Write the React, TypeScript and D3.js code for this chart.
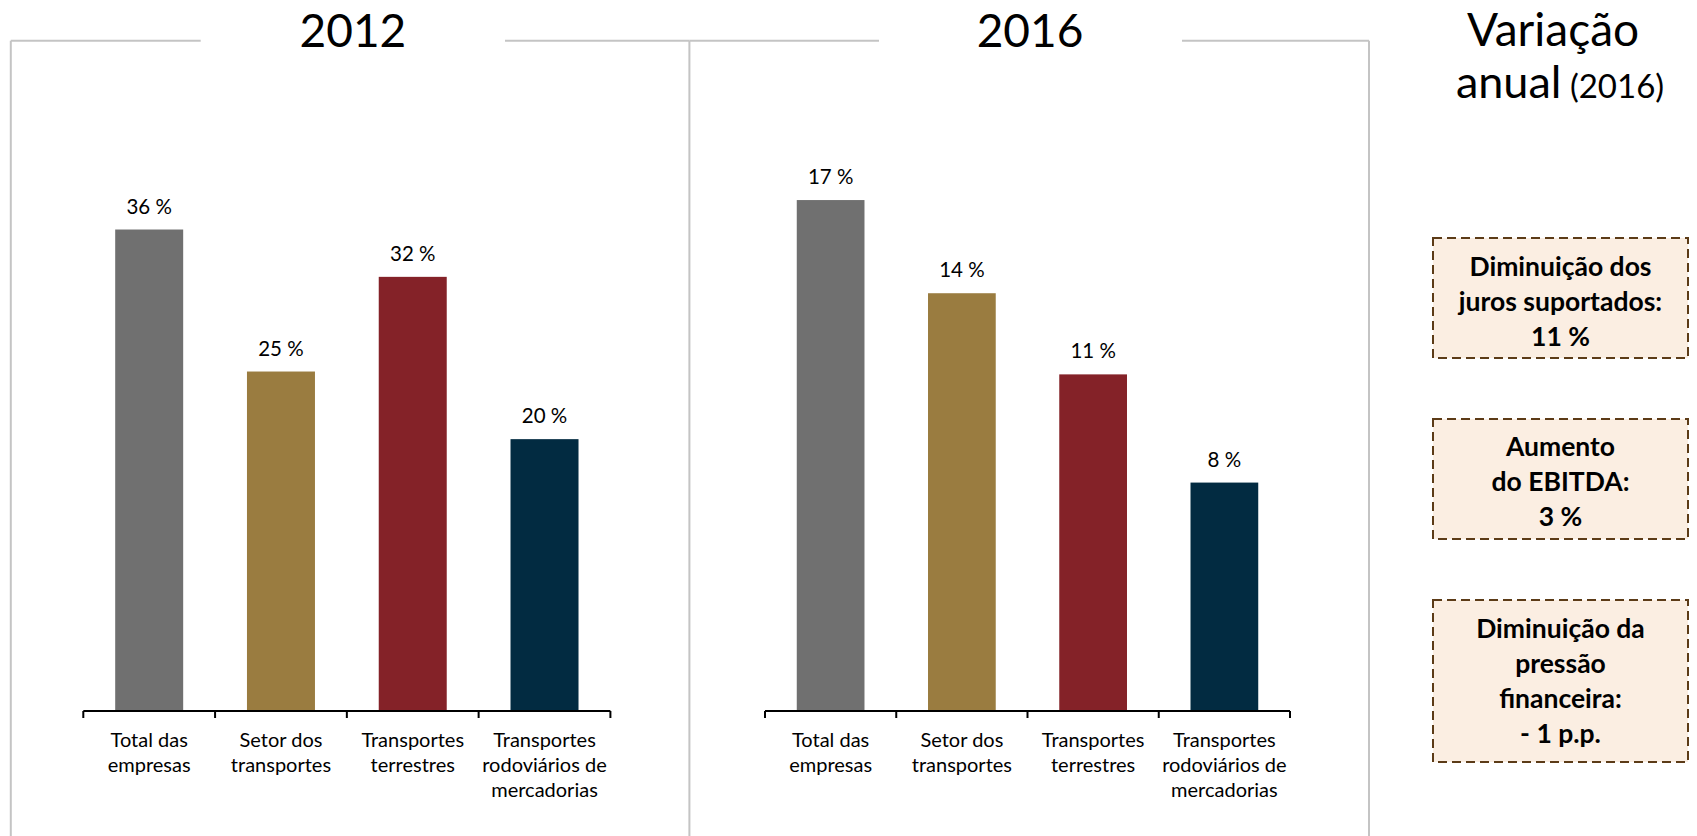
import React from "react";
import * as d3 from "d3";

const categories: string[][] = [
  ["Total das", "empresas"],
  ["Setor dos", "transportes"],
  ["Transportes", "terrestres"],
  ["Transportes", "rodoviários de", "mercadorias"],
];
const values2012: number[] = [35.6, 25.1, 32.1, 20.1];
const values2016: number[] = [17.0, 13.9, 11.2, 7.6];
const barColors: string[] = ["#707070", "#9A7C40", "#842228", "#022B41"];
const panelTitles: string[] = ["2012", "2016"];
const variationTitle: string[] = ["Variação", "anual"];
const variationSub = "(2016)";
const boxTexts: string[][] = [
  ["Diminuição dos", "juros suportados:", "11 %"],
  ["Aumento", "do EBITDA:", "3 %"],
  ["Diminuição da", "pressão", "financeira:", "- 1 p.p."],
];

const W = 1697;
const H = 836;
const FONT = "Lato, 'Open Sans', sans-serif";

type PanelProps = {
  values: number[];
  yMax: number;
  x0: number;
  x1: number;
};

function Panel({ values, yMax, x0, x1 }: PanelProps) {
  const base = 711;
  const top = 170;
  const x = d3
    .scaleBand<number>()
    .domain(values.map((_, i) => i))
    .range([x0, x1])
    .padding(0);
  const y = d3.scaleLinear().domain([0, yMax]).range([base, top]);
  const bw = x.bandwidth() * 0.516;
  const ticks = d3.range(values.length + 1).map((i) => x0 + i * x.bandwidth());
  return (
    <g>
      {values.map((v, i) => {
        const cx = (x(i) as number) + x.bandwidth() / 2;
        return (
          <g key={i}>
            <rect
              x={cx - bw / 2}
              y={y(v)}
              width={bw}
              height={base - y(v)}
              fill={barColors[i]}
            />
            <text
              x={cx}
              y={y(v) - 16}
              textAnchor="middle"
              fontFamily={FONT}
              fontSize={20.5}
              fill="#000"
            >
              {`${Math.round(v)} %`}
            </text>
            {categories[i].map((line, j) => (
              <text
                key={j}
                x={cx}
                y={746.7 + j * 25}
                textAnchor="middle"
                fontFamily={FONT}
                fontSize={20}
                fill="#000"
              >
                {line}
              </text>
            ))}
          </g>
        );
      })}
      <line x1={x0} x2={x1} y1={base} y2={base} stroke="#000" strokeWidth={2} />
      {ticks.map((t, i) => (
        <line key={i} x1={t} x2={t} y1={base} y2={base + 7} stroke="#000" strokeWidth={2} />
      ))}
    </g>
  );
}

export default function App() {
  const frameColor = "#C4C4C4";
  const frameY = 40.7;
  const lx = 10.8;
  const mx = 689.4;
  const rx = 1369;
  return (
    <svg
      width={W}
      height={H}
      viewBox={`0 0 ${W} ${H}`}
      style={{ position: "absolute", left: 0, top: 0, display: "block", background: "#fff" }}
    >
      {/* frames */}
      <g stroke={frameColor} strokeWidth={2} fill="none">
        <line x1={lx} x2={lx} y1={frameY} y2={H} />
        <line x1={mx} x2={mx} y1={frameY} y2={H} />
        <line x1={rx} x2={rx} y1={frameY} y2={H} />
        <line x1={lx} x2={200.7} y1={frameY} y2={frameY} />
        <line x1={505} x2={mx} y1={frameY} y2={frameY} />
        <line x1={mx} x2={879} y1={frameY} y2={frameY} />
        <line x1={1182} x2={rx} y1={frameY} y2={frameY} />
      </g>
      <text x={352.9} y={46.7} textAnchor="middle" fontFamily={FONT} fontSize={46} fill="#000">
        {panelTitles[0]}
      </text>
      <text x={1030} y={46.7} textAnchor="middle" fontFamily={FONT} fontSize={46} fill="#000">
        {panelTitles[1]}
      </text>

      <Panel values={values2012} yMax={40} x0={83.3} x1={610.4} />
      <Panel values={values2016} yMax={18} x0={765} x1={1290} />

      {/* right side */}
      <text x={1553} y={46} textAnchor="middle" fontFamily={FONT} fontSize={46} fill="#000">
        {variationTitle[0]}
      </text>
      <text x={1560} y={98} textAnchor="middle" fontFamily={FONT} fill="#000">
        <tspan fontSize={45}>{variationTitle[1]}</tspan>
        <tspan fontSize={33}>{" " + variationSub}</tspan>
      </text>

      {[
        { y0: 238, y1: 358, base: 276 },
        { y0: 419, y1: 539, base: 456 },
        { y0: 600, y1: 762, base: 638 },
      ].map((b, i) => (
        <g key={i}>
          <rect
            x={1433}
            y={b.y0}
            width={1688 - 1433}
            height={b.y1 - b.y0}
            fill="#FBEEE2"
            stroke="#5C3B17"
            strokeWidth={2}
            strokeDasharray="9 5"
          />
          {boxTexts[i].map((line, j) => (
            <text
              key={j}
              x={1560.5}
              y={b.base + j * 35}
              textAnchor="middle"
              fontFamily={FONT}
              fontWeight={700}
              fontSize={26.5}
              fill="#000"
            >
              {line}
            </text>
          ))}
        </g>
      ))}
    </svg>
  );
}
